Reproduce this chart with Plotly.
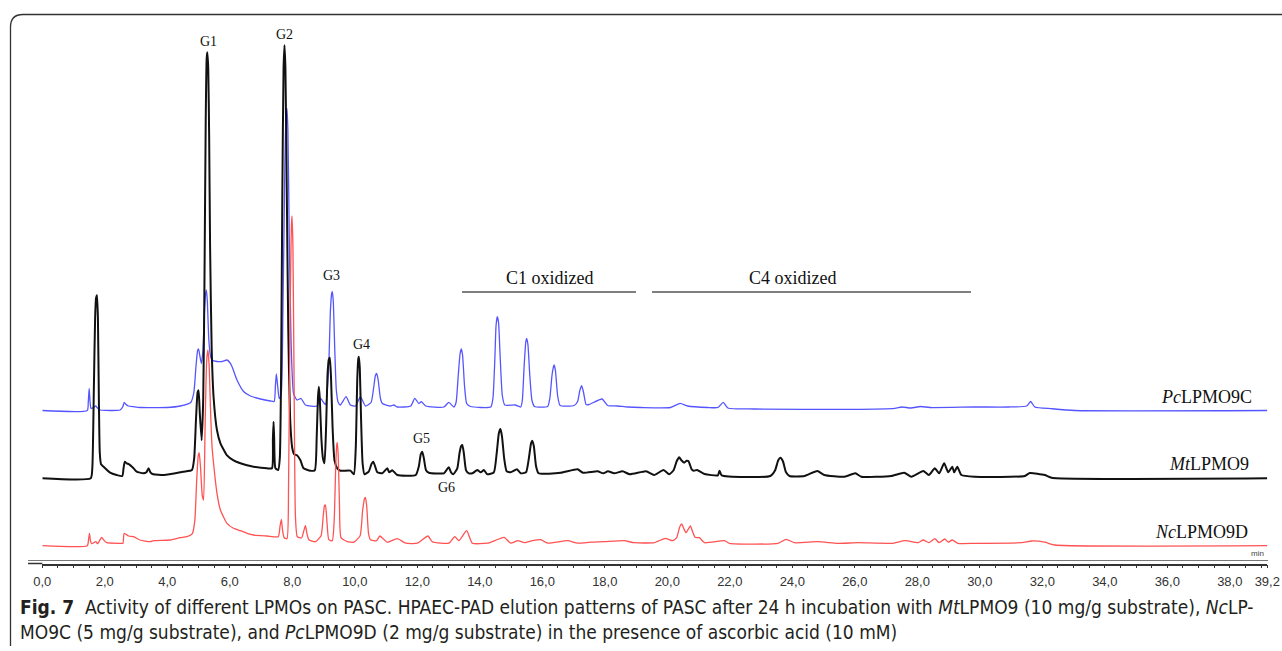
import plotly.graph_objects as go

# ---------------- data ----------------
# retention time (min) and detector response (arbitrary units, above each trace's own baseline)
mt_time = [0.0, 1.55, 1.60, 1.65, 1.69, 1.72, 1.75, 1.78, 1.81, 1.84, 1.88, 1.96, 2.17, 2.38, 2.56, 2.60,
           2.64, 2.70, 2.78, 2.92, 3.02, 3.23, 3.33, 3.40, 3.46, 3.55, 3.90, 4.50, 4.79, 4.86, 4.92, 4.97,
           5.00, 5.04, 5.10, 5.15, 5.19, 5.23, 5.26, 5.28, 5.31, 5.34, 5.37, 5.42, 5.48, 5.59, 5.70, 5.91,
           6.12, 6.34, 6.55, 6.76, 7.19, 7.35, 7.38, 7.40, 7.42, 7.46, 7.55, 7.60, 7.64, 7.68, 7.72, 7.75,
           7.78, 7.82, 7.87, 7.93, 8.00, 8.06, 8.15, 8.26, 8.36, 8.58, 8.72, 8.78, 8.82, 8.85, 8.88, 8.93,
           8.98, 9.03, 9.08, 9.13, 9.17, 9.20, 9.24, 9.29, 9.35, 9.44, 9.54, 9.86, 9.97, 10.03, 10.08,
           10.11, 10.13, 10.16, 10.20, 10.25, 10.31, 10.45, 10.53, 10.59, 10.65, 10.72, 10.88, 11.04, 11.10,
           11.20, 11.36, 11.95, 12.05, 12.11, 12.16, 12.21, 12.28, 12.37, 12.85, 12.95, 13.01, 13.08, 13.15,
           13.28, 13.35, 13.40, 13.44, 13.49, 13.56, 13.65, 13.76, 13.92, 14.03, 14.13, 14.24, 14.45, 14.54,
           14.61, 14.66, 14.71, 14.78, 14.86, 14.99, 15.19, 15.31, 15.48, 15.57, 15.64, 15.68, 15.73, 15.80,
           15.88, 16.59, 17.13, 17.30, 17.77, 17.95, 18.10, 18.30, 18.57, 18.80, 19.32, 19.58, 19.88, 20.06,
           20.20, 20.30, 20.38, 20.45, 20.54, 20.62, 20.68, 20.78, 20.85, 20.95, 21.19, 21.62, 21.67, 21.74,
           23.30, 23.45, 23.55, 23.62, 23.70, 23.80, 23.91, 24.39, 24.80, 25.02, 25.67, 26.02, 26.21, 27.17,
           27.58, 27.81, 28.19, 28.37, 28.56, 28.70, 28.86, 28.99, 29.12, 29.18, 29.28, 29.41, 29.84, 31.44,
           31.60, 32.08, 32.30, 39.2]
mt_signal = [0, 0, 10, 90, 160, 180, 183, 160, 80, 25, 14, 11.6, 5.6, 3.3, 2.3, 10,
             16.6, 15, 14, 10, 6.7, 5, 6, 10, 6, 4, 3.3, 6.6, 8.3, 20, 60, 86,
             88, 65, 38, 80, 200, 360, 420, 426, 410, 340, 230, 130, 81.6, 48, 35, 23,
             18, 15, 13, 11.6, 10, 10, 40, 56.6, 40, 10, 8.3, 20, 100, 280, 410, 433,
             410, 300, 150, 60, 30, 24, 23, 18, 10, 7.6, 8, 40, 80, 91.6, 80, 40,
             20, 15, 50, 105, 119, 120.6, 100, 50, 18, 10, 7.6, 7.6, 4, 30, 100,
             119, 121.6, 110, 60, 15, 4, 7, 14, 16.6, 12, 6, 5, 10, 6,
             8, 3.3, 3.3, 12, 24, 26.6, 20, 8, 5.6, 5, 9, 11, 6, 4,
             10, 25, 32, 33.3, 25, 8, 5, 5, 8.3, 6, 8.3, 4, 6, 25,
             45, 49.3, 42, 20, 7, 6, 9, 5, 6, 20, 35, 37.6, 32, 12,
             5, 5.5, 9, 5.5, 7, 5, 7, 5, 7, 4, 7, 3.3, 8.3, 4,
             8, 17, 21, 18, 15.6, 17.6, 17, 9, 7.6, 8.3, 4.3, 3, 7.6, 3,
             2.3, 8, 18, 20.6, 17, 6, 2.3, 2.3, 7.3, 3.3, 1.6, 5, 1.6, 2.3,
             5.6, 1.6, 7.3, 3.3, 10, 5, 15, 6, 11.6, 6, 11.6, 3.3, 1.6, 2.3,
             5.3, 3.3, 0.6, 0]

pc_time = [0.0, 1.44, 1.47, 1.50, 1.53, 1.56, 1.64, 1.71, 1.78, 1.85, 2.49, 2.58, 2.62, 2.68, 2.76, 2.92,
           3.13, 3.99, 4.41, 4.75, 4.85, 4.92, 4.97, 5.00, 5.04, 5.09, 5.14, 5.19, 5.23, 5.25, 5.28, 5.33,
           5.38, 5.43, 5.59, 5.75, 5.91, 6.00, 6.07, 6.23, 6.44, 6.66, 6.98, 7.30, 7.42, 7.46, 7.49, 7.53,
           7.58, 7.64, 7.70, 7.76, 7.80, 7.83, 7.86, 7.90, 7.96, 8.04, 8.15, 8.28, 8.42, 8.79, 8.90, 9.06,
           9.16, 9.22, 9.26, 9.28, 9.31, 9.36, 9.41, 9.47, 9.54, 9.72, 9.86, 10.02, 10.18, 10.34, 10.52,
           10.60, 10.66, 10.70, 10.75, 10.82, 10.88, 11.14, 11.25, 11.36, 11.79, 11.92, 12.05, 12.13, 12.27,
           12.85, 13.01, 13.17, 13.24, 13.31, 13.37, 13.41, 13.45, 13.51, 13.58, 13.70, 14.35, 14.42, 14.48,
           14.52, 14.56, 14.60, 14.65, 14.72, 14.80, 15.13, 15.31, 15.36, 15.42, 15.47, 15.50, 15.54, 15.60,
           15.67, 15.75, 16.17, 16.24, 16.31, 16.36, 16.38, 16.42, 16.49, 16.57, 17.02, 17.13, 17.20, 17.26,
           17.32, 17.40, 17.50, 17.91, 18.09, 18.41, 18.73, 19.16, 20.10, 20.41, 20.65, 21.30, 21.62, 21.79,
           21.94, 22.79, 25.89, 27.28, 27.50, 27.80, 28.10, 28.40, 29.84, 30.91, 31.50, 31.63, 31.76, 32.30,
           33.04, 39.2]
pc_signal = [0, 0, 8, 22, 8, 2, 3, 4.5, 2, 0.5, 0.5, 4, 8.2, 6, 4.5, 3.8,
             3, 3, 4.5, 8, 18, 45, 60, 61.5, 55, 47, 60, 100, 118, 120.5, 110, 70,
             55, 50.5, 49, 49, 50.5, 48, 44, 30.5, 19, 14.5, 11.5, 9.5, 9, 25, 36.5, 25,
             12, 15, 100, 240, 295, 302, 280, 180, 70, 17, 10.5, 12, 5.5, 4.5, 12, 6,
             40, 100, 117, 118.8, 110, 60, 20, 8, 5.5, 13.8, 5.5, 4.5, 13.8, 4.5, 8,
             22, 35, 37, 30, 12, 7, 4.5, 5.5, 3.5, 4.5, 12.2, 7, 8.8, 4.5,
             3.5, 8.2, 3.5, 8, 35, 57, 61.5, 55, 25, 7, 4, 3.5, 12, 50,
             85, 93.8, 88, 55, 15, 5.5, 5.5, 3.5, 10, 45, 68, 72, 66, 35,
             10, 4, 4, 12, 35, 44, 45.5, 40, 15, 5, 5, 9, 20, 24.8,
             18, 6, 6, 11.5, 5, 4.5, 3.5, 3, 3, 7.2, 4.5, 3, 3, 8.2,
             2.5, 1.5, 1.2, 2.2, 3.5, 2.5, 4, 3, 3.5, 3.5, 4.5, 9, 3.5, 1.8,
             0, 0]

nc_time = [0.0, 1.44, 1.48, 1.51, 1.54, 1.58, 1.71, 1.77, 1.85, 1.90, 1.96, 2.06, 2.49, 2.58, 2.62, 2.76,
           2.92, 3.13, 3.45, 3.56, 4.09, 4.41, 4.63, 4.80, 4.88, 4.94, 4.99, 5.02, 5.06, 5.12, 5.16, 5.21,
           5.26, 5.30, 5.34, 5.38, 5.43, 5.48, 5.59, 5.70, 5.91, 6.12, 6.34, 6.55, 6.76, 7.19, 7.55, 7.61,
           7.65, 7.69, 7.74, 7.83, 7.88, 7.93, 7.97, 7.99, 8.02, 8.06, 8.10, 8.16, 8.30, 8.37, 8.42, 8.47,
           8.53, 8.74, 8.92, 8.99, 9.03, 9.06, 9.10, 9.17, 9.28, 9.34, 9.39, 9.42, 9.44, 9.47, 9.51, 9.56,
           9.76, 9.97, 10.17, 10.25, 10.31, 10.34, 10.38, 10.44, 10.50, 10.70, 10.80, 11.04, 11.36, 11.63,
           12.00, 12.34, 12.48, 13.01, 13.20, 13.33, 13.58, 13.76, 14.24, 14.35, 14.78, 14.99, 15.21, 15.43,
           15.69, 15.95, 16.17, 16.81, 17.13, 17.55, 17.98, 18.62, 18.94, 19.58, 19.94, 20.17, 20.30, 20.40,
           20.46, 20.53, 20.60, 20.68, 20.74, 20.81, 20.89, 21.03, 21.19, 21.83, 21.99, 23.54, 23.80, 24.07,
           24.82, 25.46, 26.10, 27.17, 27.62, 28.03, 28.19, 28.37, 28.56, 28.70, 28.88, 28.99, 29.12, 29.30,
           29.84, 31.34, 31.66, 32.08, 32.40, 39.2]
nc_signal = [0, 0, 6, 12.4, 5, 2, 4, 2, 6, 8.4, 6, 3, 2.4, 2.4, 12.4, 9.7,
             9, 5.7, 4, 5, 5.7, 8, 9, 12, 25, 65, 90, 93, 80, 50, 45.7, 120,
             185, 195.7, 180, 139, 100, 82.4, 52.4, 35.7, 22.4, 17.4, 15, 12.4, 10.7, 9.7, 9, 20,
             26.4, 15, 8, 7, 60, 230, 320, 329.7, 300, 150, 30, 9, 8, 15, 20, 12,
             6, 4, 10, 30, 40, 40.7, 28, 6, 5, 25, 80, 100, 103.4, 90, 40, 8,
             4, 3.5, 10, 35, 47, 48.4, 40, 12, 6, 5, 9.7, 3.5, 7, 2.5,
             2.5, 9.7, 4, 2.5, 9, 5, 15, 2.5, 2.5, 3.5, 8.4, 2.5, 5, 3,
             5, 6, 2.5, 5, 2.5, 3.5, 4, 5, 3, 3, 7.4, 5, 8, 19,
             21.7, 17, 13, 17, 19.7, 14, 8.4, 8, 3, 5, 2.4, 2.4, 6.4, 3,
             4, 2.4, 3, 2.4, 5, 3, 5.7, 3, 7, 3, 6.7, 3.5, 5.7, 2.4,
             2.4, 3, 4.7, 3.5, 0.7, 0]

trace_names = ["<i>Pc</i>LPMO9C", "<i>Mt</i>LPMO9", "<i>Nc</i>LPMO9D"]
trace_offsets = [153.0, 85.2, 17.8]   # vertical stacking offsets of the three chromatograms
trace_colors = ["#5555ff", "#111111", "#ff5252"]
trace_widths = [1.3, 2.0, 1.3]

tick_vals = [0, 2, 4, 6, 8, 10, 12, 14, 16, 18, 20, 22, 24, 26, 28, 30, 32, 34, 36, 38, 39.2]
tick_text = ["0,0", "2,0", "4,0", "6,0", "8,0", "10,0", "12,0", "14,0", "16,0", "18,0", "20,0",
             "22,0", "24,0", "26,0", "28,0", "30,0", "32,0", "34,0", "36,0", "38,0", "39,2"]

peak_labels = ["G1", "G2", "G3", "G4", "G5", "G6"]

caption_line1 = ("<b>Fig. 7</b>  Activity of different LPMOs on PASC. HPAEC-PAD elution patterns of PASC after 24 h "
                 "incubation with <i>Mt</i>LPMO9 (10 mg/g substrate), <i>Nc</i>LP-")
caption_line2 = ("MO9C (5 mg/g substrate), and <i>Pc</i>LPMO9D (2 mg/g substrate) in the presence of ascorbic acid (10 mM)")

# ---------------- figure ----------------
W, H = 1282, 651
X0, X1 = 42.3, 1267.3      # pixel span of the time axis
YB, YT = 563.5, 20.0       # pixel span of the response axis


def px(x):
    return x / W


def py(y):
    return 1 - y / H


fig = go.Figure()
series = [(pc_time, pc_signal), (mt_time, mt_signal), (nc_time, nc_signal)]
for (t, s), name, off, col, lw in zip(series, trace_names, trace_offsets, trace_colors, trace_widths):
    fig.add_trace(go.Scatter(
        x=t, y=[v + off for v in s], mode="lines", name=name,
        line=dict(color=col, width=lw, shape="spline", smoothing=0.5),
        hoverinfo="skip", showlegend=False))

serif = "Liberation Serif, Times New Roman, serif"


def label(text, x, y, size, family=serif, color="#111", xanchor="center"):
    return dict(text=text, x=px(x), y=py(y), xref="paper", yref="paper", showarrow=False,
                xanchor=xanchor, yanchor="middle", font=dict(family=family, size=size, color=color))


ann = []
for lab, (x, y) in zip(peak_labels, [(208, 42), (284, 34), (331, 276), (361, 344), (421, 438), (447, 487)]):
    ann.append(label(lab, x, y, 14))
ann.append(label("C1 oxidized", 550, 278, 18))
ann.append(label("C4 oxidized", 793, 278, 18))
for name, (x, y) in zip(trace_names, [(1254, 397), (1251, 464), (1250, 532)]):
    ann.append(label(name, x, y, 18, xanchor="right"))
ann.append(label("min", 1257, 553, 8, family="Liberation Sans, Arial, sans-serif", color="#444"))
capfam = "DejaVu Sans Condensed, Liberation Sans Narrow, Arial Narrow, sans-serif"
ann.append(label(caption_line1, 18, 607, 19, family=capfam, color="#231f20", xanchor="left"))
ann.append(label(caption_line2, 18, 632, 19, family=capfam, color="#231f20", xanchor="left"))

shapes = [
    # rounded frame
    dict(type="path", xref="paper", yref="paper",
         path=f"M {px(10.5)} {py(646)} L {px(10.5)} {py(27)} Q {px(10.5)} {py(14.5)} {px(23)} {py(14.5)} L {px(1282)} {py(14.5)}",
         line=dict(color="#333", width=1.3)),
    # region bars
    dict(type="line", xref="paper", yref="paper", x0=px(462), x1=px(636), y0=py(292), y1=py(292),
         line=dict(color="#555", width=1.3)),
    dict(type="line", xref="paper", yref="paper", x0=px(652), x1=px(971), y0=py(292), y1=py(292),
         line=dict(color="#555", width=1.3)),
    # upper of the double axis line
    dict(type="line", xref="paper", yref="paper", x0=px(28), x1=px(1268), y0=py(560.5), y1=py(560.5),
         line=dict(color="#777", width=1)),
    # lower axis line extension left of zero
    dict(type="line", xref="paper", yref="paper", x0=px(28), x1=px(X0), y0=py(YB), y1=py(YB),
         line=dict(color="#333", width=1.5)),
]

fig.update_layout(
    width=W, height=H, margin=dict(l=0, r=0, t=0, b=0, autoexpand=False),
    paper_bgcolor="white", plot_bgcolor="white",
    annotations=ann, shapes=shapes,
    xaxis=dict(domain=[px(X0), px(X1)], range=[0, 39.2], showgrid=False, zeroline=False, automargin=False,
               showline=True, linecolor="#333", linewidth=1.5,
               ticks="outside", ticklen=3, tickwidth=1, tickcolor="#333",
               tickmode="array", tickvals=tick_vals, ticktext=tick_text,
               ticklabelstandoff=2,
               tickfont=dict(family="Liberation Sans, Arial, sans-serif", size=13, color="#333"),
               minor=dict(dtick=0.5, tick0=0, ticks="outside", ticklen=3, tickcolor="#333", showgrid=False)),
    yaxis=dict(domain=[py(YB), py(YT)], range=[0, YB - YT], visible=False, showgrid=False,
               zeroline=False, automargin=False),
)

fig.write_html("out.html")
